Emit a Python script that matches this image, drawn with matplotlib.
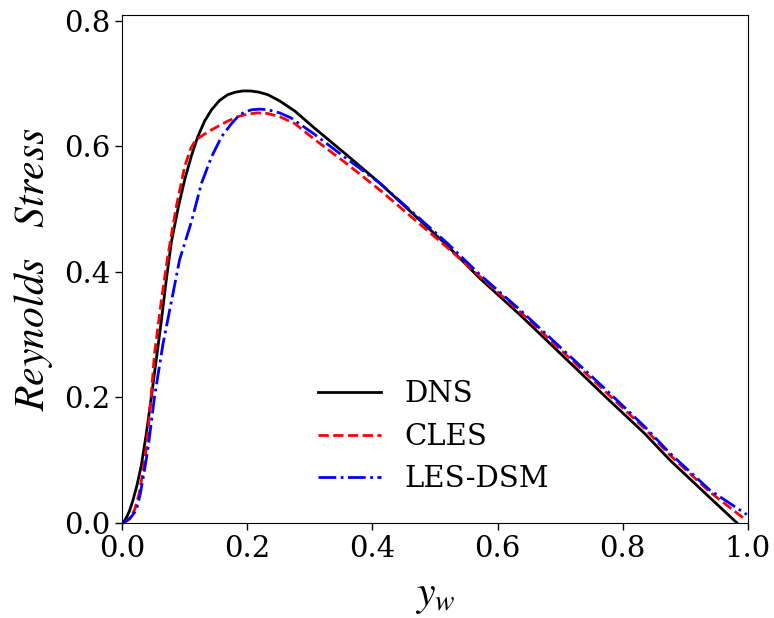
import matplotlib
matplotlib.use("Agg")
import matplotlib.pyplot as plt

plt.rcParams['font.family'] = ['DejaVu Serif']
plt.rcParams['mathtext.fontset'] = 'stix'

# DNS
dns_x = [0.0, 0.004, 0.008, 0.012, 0.0176, 0.024, 0.031, 0.039, 0.047, 0.055, 0.063, 0.071,
         0.079, 0.090, 0.100, 0.111, 0.121, 0.132, 0.143, 0.156, 0.169, 0.181, 0.193, 0.205,
         0.219, 0.233, 0.252, 0.276, 0.306, 0.359, 0.412, 0.465, 0.519, 0.572, 0.636, 0.772,
         0.835, 0.875, 0.939, 0.982]
dns_y = [0.0, 0.003, 0.010, 0.019, 0.036, 0.060, 0.092, 0.143, 0.201, 0.262, 0.323, 0.389,
         0.448, 0.503, 0.546, 0.585, 0.615, 0.640, 0.658, 0.673, 0.682, 0.686, 0.688, 0.688,
         0.686, 0.682, 0.672, 0.656, 0.630, 0.586, 0.541, 0.492, 0.442, 0.389, 0.331, 0.201,
         0.142, 0.100, 0.040, 0.0]

# CLES
cles_x = [0.0, 0.006, 0.012, 0.020, 0.027, 0.033, 0.039, 0.046, 0.052, 0.063, 0.0735, 0.087,
          0.100, 0.110, 0.118, 0.130, 0.143, 0.156, 0.169, 0.185, 0.200, 0.217, 0.233, 0.252,
          0.276, 0.306, 0.359, 0.412, 0.465, 0.519, 0.572, 0.636, 0.772, 0.835, 0.875, 0.939,
          0.997]
cles_y = [0.0, 0.002, 0.007, 0.020, 0.045, 0.078, 0.120, 0.195, 0.270, 0.355, 0.427, 0.505,
          0.567, 0.597, 0.610, 0.618, 0.626, 0.633, 0.640, 0.647, 0.651, 0.653, 0.652, 0.647,
          0.636, 0.612, 0.572, 0.530, 0.485, 0.439, 0.392, 0.336, 0.209, 0.150, 0.108, 0.049,
          0.004]

# LES-DSM
dsm_x = [0.0, 0.006, 0.012, 0.023, 0.029, 0.035, 0.0415, 0.052, 0.0655, 0.080, 0.092, 0.111,
         0.127, 0.143, 0.159, 0.175, 0.186, 0.195, 0.207, 0.220, 0.233, 0.252, 0.270, 0.306,
         0.359, 0.412, 0.465, 0.519, 0.572, 0.636, 0.772, 0.835, 0.875, 0.939, 0.998]
dsm_y = [0.0, 0.002, 0.006, 0.020, 0.045, 0.078, 0.118, 0.201, 0.285, 0.358, 0.419, 0.480,
         0.541, 0.583, 0.615, 0.636, 0.648, 0.654, 0.658, 0.659, 0.658, 0.653, 0.645, 0.620,
         0.580, 0.541, 0.494, 0.446, 0.395, 0.339, 0.213, 0.153, 0.111, 0.052, 0.013]

labels = ['DNS', 'CLES', 'LES-DSM']
x_ticks = [0.0, 0.2, 0.4, 0.6, 0.8, 1.0]
y_ticks = [0.0, 0.2, 0.4, 0.6, 0.8]

fig = plt.figure(figsize=(7.74, 6.18), dpi=100)
ax = fig.add_axes([122/774, 1 - 522.7/618, (748 - 122)/774, (522.7 - 15)/618])

ax.plot(dns_x, dns_y, color='black', linestyle='-', linewidth=2, label=labels[0])
ax.plot(cles_x, cles_y, color='red', linestyle='--', linewidth=2, label=labels[1])
ax.plot(dsm_x, dsm_y, color='blue', linestyle='-.', linewidth=2, label=labels[2])

ax.set_xlim(0, 1.0)
ax.set_ylim(0, 0.809)
ax.set_xticks(x_ticks)
ax.set_yticks(y_ticks)
ax.set_xticklabels([f"{v:.1f}" for v in x_ticks])
ax.set_yticklabels([f"{v:.1f}" for v in y_ticks])
ax.tick_params(labelsize=21, length=5, width=1)

ax.set_xlabel(r'$y_w$', fontsize=30, labelpad=8)
ax.set_ylabel(r'$Reynolds\quad Stress$', fontsize=30, labelpad=6)

ax.legend(loc='upper left', bbox_to_anchor=(292/774, 1 - 354/618),
          bbox_transform=fig.transFigure, frameon=False, fontsize=21,
          handlelength=2.15)

fig.savefig('out.png', dpi=100)
